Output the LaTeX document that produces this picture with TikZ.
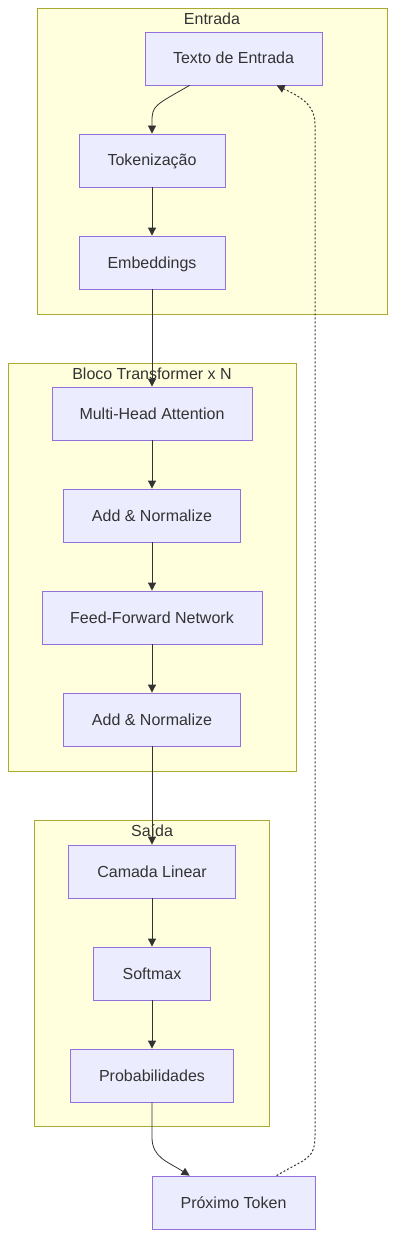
\documentclass[tikz,border=0pt]{standalone}
\usepackage{fontspec}
\setmainfont{Liberation Sans}
\usetikzlibrary{arrows.meta,calc}
\definecolor{clfill}{HTML}{FFFFDE}
\definecolor{clline}{HTML}{AAAA33}
\definecolor{ndfill}{HTML}{ECECFF}
\definecolor{ndline}{HTML}{9370DB}
\definecolor{txt}{HTML}{333333}
\tikzset{
  cluster/.style={draw=clline, fill=clfill, line width=0.8pt},
  cltitle/.style={text=txt, font=\fontsize{16}{19}\selectfont, inner sep=0pt, text height=11.5pt, text depth=0.5pt},
  nodebox/.style={draw=ndline, fill=ndfill, line width=0.8pt, text=txt,
    font=\fontsize{16}{19}\selectfont, minimum height=53pt, inner sep=0pt,
    text height=11.5pt, text depth=0.5pt},
  edge/.style={draw=txt, line width=0.8pt, -{Triangle[length=8pt,width=8pt]}},
  dotedge/.style={draw=txt, line width=1pt, dash pattern=on 2pt off 2pt, -{Triangle[length=8pt,width=8pt]}},
}
\begin{document}
\begin{tikzpicture}[x=1pt,y=-1pt]
\useasboundingbox[fill=white] (0,0) rectangle (403,1260);
% clusters
\draw[cluster] (37,8) rectangle (387,314);
\node[cltitle] (tEntrada) at (212,19) {Entrada};
\draw[cluster] (8,363) rectangle (296,771);
\node[cltitle] (tBloco) at (152,374) {Bloco Transformer x N};
\draw[cluster] (34,820) rectangle (269,1126);
\node[cltitle] (tSaida) at (152,831) {Saída};
% nodes
\node[nodebox, minimum width=177pt] (texto) at (233.5,58.5) {Texto de Entrada};
\node[nodebox, minimum width=146pt] (tok) at (152,160.5) {Tokenização};
\node[nodebox, minimum width=146pt] (emb) at (152,262.5) {Embeddings};
\node[nodebox, minimum width=200pt] (mha) at (152,413.5) {Multi-Head Attention};
\node[nodebox, minimum width=177pt] (add1) at (152,515.5) {Add \& Normalize};
\node[nodebox, minimum width=220pt] (ffn) at (152,617.5) {Feed-Forward Network};
\node[nodebox, minimum width=177pt] (add2) at (152,719.5) {Add \& Normalize};
\node[nodebox, minimum width=167pt] (lin) at (152,871.5) {Camada Linear};
\node[nodebox, minimum width=117pt] (soft) at (152,973.5) {Softmax};
\node[nodebox, minimum width=163pt] (prob) at (152,1075.5) {Probabilidades};
\node[nodebox, minimum width=163pt] (prox) at (233.5,1202.5) {Próximo Token};
% edges
\draw[edge] ([xshift=45pt]texto.south west) .. controls ($([xshift=45pt]texto.south west)+(-35,20)$) and ($(tok.north)+(0,-28)$) .. ($(tok.north)+(0,-12)$) -- (tok.north);
\draw[edge] (tok) -- (emb);
\draw[edge] (emb) -- (mha);
\draw[edge] (mha) -- (add1);
\draw[edge] (add1) -- (ffn);
\draw[edge] (ffn) -- (add2);
\draw[edge] (add2) -- (lin);
\draw[edge] (lin) -- (soft);
\draw[edge] (soft) -- (prob);
\draw[edge] (prob.south) -- ($(prob.south)+(0,35)$) .. controls ($(prob.south)+(0,55)$) and ($([xshift=38pt]prox.north west)+(-22,-14)$) .. ([xshift=38pt]prox.north west);
\draw[dotedge] ([xshift=125pt]prox.north west) .. controls ($([xshift=125pt]prox.north west)+(30,-18)$) and (315,1160) .. (315,1135) -- (315,125) .. controls (315,105) and ($([xshift=132pt]texto.south west)+(25,12)$) .. ([xshift=132pt]texto.south west);
\end{tikzpicture}
\end{document}
